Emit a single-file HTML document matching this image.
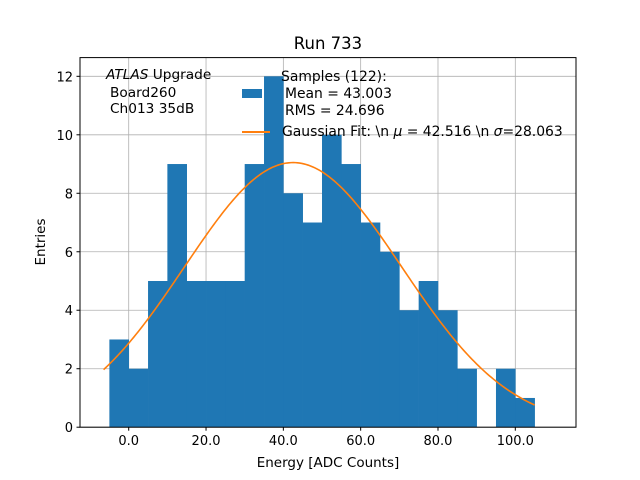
<!DOCTYPE html>
<html><head><meta charset="utf-8"><style>
body{margin:0;background:#fff}
svg{display:block;font-family:"DejaVu Sans","Liberation Sans",sans-serif}
</style></head><body>
<svg id="chart" width="640" height="480" viewBox="0 0 640 480">
<rect width="640" height="480" fill="#fff"/>
<g id="grid"></g>
<g id="bars"></g>
<g id="fit"></g>
<rect x="80" y="57.6" width="496" height="369.6" fill="none" stroke="#000" stroke-width="1"/>
<g id="ticks" font-size="13"></g>
<text x="328" y="49" font-size="16.5" text-anchor="middle">Run 733</text>
<text x="328" y="467" font-size="13.5" text-anchor="middle">Energy [ADC Counts]</text>
<text x="45" y="242" font-size="13.5" text-anchor="middle" transform="rotate(-90 45 242)">Entries</text>
<g font-size="13.7">
<text x="106" y="79"><tspan font-style="italic">ATLAS</tspan> Upgrade</text>
<text x="110" y="97">Board260</text>
<text x="110" y="113">Ch013 35dB</text>
</g>
<g font-size="13.9">
<rect x="242" y="89" width="20" height="9" fill="#1f77b4"/>
<text x="281" y="81">Samples (122):</text>
<text x="285" y="98">Mean = 43.003</text>
<text x="285" y="115">RMS = 24.696</text>
<line x1="242" y1="132" x2="270" y2="132" stroke="#ff7f0e" stroke-width="2"/>
<text x="282" y="136">Gaussian Fit: \n <tspan font-style="italic">μ</tspan> = 42.516 \n <tspan font-style="italic">σ</tspan>=28.063</text>
</g>
</svg>
<script>
const binEdgesStart = [-5,0,5,10,15,20,25,30,35,40,45,50,55,60,65,70,75,80,85,90,95,100];
const binCounts = [3,2,5,9,5,5,5,9,12,8,7,10,9,7,6,4,5,4,2,0,2,1];
const binWidth = 5;
const fitMu = 42.516, fitSigma = 28.063, fitAmp = 9.05;
const fitRange = [-6.5, 105];
const xTicks = [0,20,40,60,80,100];
const xTickLabels = ["0.0","20.0","40.0","60.0","80.0","100.0"];
const yTicks = [0,2,4,6,8,10,12];

const NS = "http://www.w3.org/2000/svg";
const X0 = 80, X1 = 576, Y0 = 427.2, Y1 = 57.6;
const xMin = -12.6, xMax = 115.7, yMin = 0, yMax = 12.64;
const sx = v => X0 + (v - xMin) / (xMax - xMin) * (X1 - X0);
const sy = v => Y0 - (v - yMin) / (yMax - yMin) * (Y0 - Y1);
function mk(tag, attrs, parent){const e=document.createElementNS(NS,tag);for(const k in attrs)e.setAttribute(k,attrs[k]);parent.appendChild(e);return e;}

const bars = document.getElementById('bars');
binCounts.forEach((c,i)=>{
  if(c<=0) return;
  const x=sx(binEdgesStart[i]), w=sx(binEdgesStart[i]+binWidth)-x;
  const r=mk('rect',{x:x,y:sy(c),width:w+0.3,height:sy(0)-sy(c),fill:'#1f77b4'},bars);
  
  
});

const grid=document.getElementById('grid'), ticks=document.getElementById('ticks');
xTicks.forEach((t,i)=>{
  const x=sx(t);
  const g=mk('line',{x1:x,x2:x,y1:Y1,y2:Y0,stroke:'#b0b0b0','stroke-width':0.8},grid);
  
  
  mk('line',{x1:x,x2:x,y1:Y0,y2:Y0+3.5,stroke:'#000'},ticks);
  const tx=mk('text',{x:x,y:Y0+18,'text-anchor':'middle'},ticks);
  tx.textContent=xTickLabels[i];
  
  
});
yTicks.forEach(t=>{
  const y=sy(t);
  const g=mk('line',{x1:X0,x2:X1,y1:y,y2:y,stroke:'#b0b0b0','stroke-width':0.8},grid);
  
  
  mk('line',{x1:X0-3.5,x2:X0,y1:y,y2:y,stroke:'#000'},ticks);
  const tx=mk('text',{x:X0-7,y:y+5,'text-anchor':'end'},ticks);
  tx.textContent=String(t);
  
  
});

const fit=document.getElementById('fit');
let d='';
for(let k=0;k<=200;k++){
  const v=fitRange[0]+(fitRange[1]-fitRange[0])*k/200;
  const f=fitAmp*Math.exp(-((v-fitMu)**2)/(2*fitSigma*fitSigma));
  d+=(k?'L':'M')+sx(v).toFixed(2)+' '+sy(f).toFixed(2);
}
const p=mk('path',{d:d,fill:'none',stroke:'#ff7f0e','stroke-width':1.6},fit);


</script>
</body></html>
